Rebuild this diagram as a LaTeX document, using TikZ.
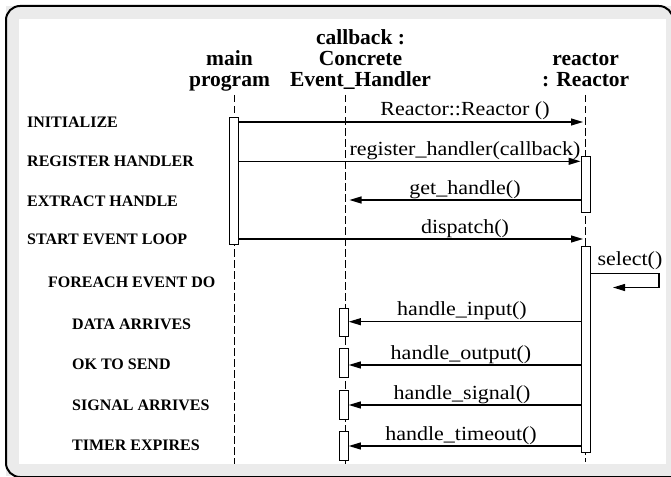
\documentclass[tikz,border=0pt]{standalone}
\usepackage{fontspec}
\setmainfont{Liberation Serif}
\newfontfamily\msgfont{Liberation Serif}[FakeStretch=1.1]
\usetikzlibrary{arrows.meta}

\begin{document}
\begin{tikzpicture}[x=1pt,y=-1pt,
  frame/.style={draw=black,line width=2pt,rounded corners=14pt},
  life/.style={line width=0.9pt,dash pattern=on 7.5pt off 3.5pt},
  act/.style={draw,line width=1pt,fill=white,minimum width=9pt,inner sep=0pt},
  msg/.style={line width=1.1pt,-{Triangle[length=12pt,width=7pt]}},
  selfmsg/.style={msg,rounded corners=0pt},
  head/.style={font=\fontsize{21.5}{21}\selectfont\bfseries,align=center,anchor=base,inner sep=0pt},
  phase/.style={font=\fontsize{16}{18}\selectfont\bfseries,anchor=base west,inner sep=0pt},
  lbl/.style={font=\msgfont\fontsize{20}{22}\selectfont,anchor=base,inner sep=0pt},
]
\useasboundingbox (0,0) rectangle (671,476);

% outer frame and white drawing area
\begin{scope}
  \clip (0,0) rectangle (671,476);
  \fill[black!8] (6,6) rectangle (671,476);
  \draw[frame] (673,500) -- (673,6) -- (6,6) -- (6,477) -- (700,477);
  \fill[white] (19,19) rectangle (666,464);
\end{scope}

% object headers (anchored at the baseline of their last line)
\node[head] (hmain) at (229.5,87) {main\\program};
\node[head] (hcb) at (360.5,87) {callback :\\Concrete\\Event\_Handler};
\node[head] (hre) at (585.7,87) {reactor\\: Reactor};

% lifelines
\coordinate (mainTop) at (234.5,95);
\coordinate (mainBot) at (234.5,464);
\coordinate (cbTop) at (345,95);
\coordinate (cbBot) at (345,464);
\coordinate (reTop) at (585.5,95);
\coordinate (reBot) at (585.5,462);
\draw[life] (mainTop) -- (mainBot);
\draw[life] (cbTop) -- (cbBot);
\draw[life] (reTop) -- (reBot);

% activation boxes
\node[act,minimum height=127pt] (mainA) at (233.8,180.5) {};
\node[act,minimum height=55.3pt] (reA1) at (585.5,184.4) {};
\node[act,minimum height=206.7pt] (reA2) at (585.5,349.4) {};
\node[act,minimum height=28.4pt] (cbA1) at (343.8,322.5) {};
\node[act,minimum height=29.4pt] (cbA2) at (343.8,363) {};
\node[act,minimum height=29.3pt] (cbA3) at (343.8,404.7) {};
\node[act,minimum height=29pt] (cbA4) at (343.8,446.2) {};

% message rows
\coordinate (r1) at (0,122);
\coordinate (r2) at (0,161.3);
\coordinate (r3) at (0,200);
\coordinate (r4) at (0,239);
\coordinate (r6) at (0,321.7);
\coordinate (r7) at (0,365);
\coordinate (r8) at (0,405);
\coordinate (r9) at (0,446);
\coordinate (reIn) at (583,0);
\coordinate (cbIn) at (349.5,0);

% messages
\draw[msg] (mainA.east |- r1) -- (reIn |- r1);
\draw[msg] (mainA.east |- r2) -- (reA1.west |- r2);
\draw[msg] (reA1.west |- r3) -- (cbIn |- r3);
\draw[msg] (mainA.east |- r4) -- (reIn |- r4);
\coordinate (selA) at (659,273.3);
\coordinate (selB) at (659,287.5);
\coordinate (selEnd) at (613,287.5);
\draw[selfmsg] (reA2.east |- selA) -- (selA) -- (selB) -- (selEnd);
\draw[msg] (reA2.west |- r6) -- (cbA1.east |- r6);
\draw[msg] (reA2.west |- r7) -- (cbA2.east |- r7);
\draw[msg] (reA2.west |- r8) -- (cbA3.east |- r8);
\draw[msg] (reA2.west |- r9) -- (cbA4.east |- r9);

% message labels, centred between the two lifelines
\node[lbl] (l1) at (465,116) {Reactor::Reactor ()};
\node[lbl] (l2) at (465,155.3) {register\_handler(callback)};
\node[lbl] (l3) at (465,194) {get\_handle()};
\node[lbl] (l4) at (465,233) {dispatch()};
\node[lbl] (l5) at (630,265) {select()};
\node[lbl] (l6) at (462,315.7) {handle\_input()};
\node[lbl] (l7) at (461,359) {handle\_output()};
\node[lbl] (l8) at (462,399) {handle\_signal()};
\node[lbl] (l9) at (461,440) {handle\_timeout()};

% phases of the scenario
\node[phase] (p1) at (27,128) {INITIALIZE};
\node[phase] (p2) at (27,166.5) {REGISTER HANDLER};
\node[phase] (p3) at (27,206) {EXTRACT HANDLE};
\node[phase] (p4) at (27,244) {START EVENT LOOP};
\node[phase] (p5) at (48,287) {FOREACH EVENT DO};
\node[phase] (p6) at (72,329) {DATA ARRIVES};
\node[phase] (p7) at (72,369) {OK TO SEND};
\node[phase] (p8) at (72,410) {SIGNAL ARRIVES};
\node[phase] (p9) at (72,450) {TIMER EXPIRES};
\end{tikzpicture}
\end{document}
